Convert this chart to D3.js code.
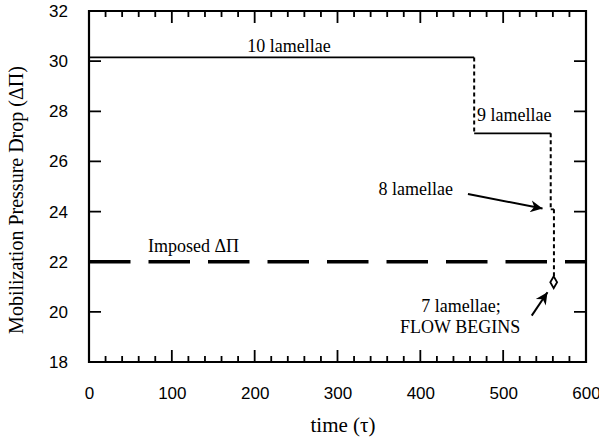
<!DOCTYPE html>
<html>
<head>
<meta charset="utf-8">
<script src="https://cdn.jsdelivr.net/npm/d3@7"></script>
<style>
  body { margin: 0; background: #fff; }
  .tick text { font-family: "Liberation Sans", Arial, sans-serif; font-size: 17px; fill: #000; }
  .lbl { font-family: "Liberation Serif", "Times New Roman", serif; fill: #000; }
</style>
</head>
<body>
<div id="chart"></div>
<script>
// solid steps: [start time, end time, pressure drop]
const steps = [
    [0, 465, 30.15],     // 10 lamellae
    [465, 557.4, 27.12], // 9 lamellae
    [557.4, 561.3, 24.09] // 8 lamellae
];
// dotted drops between steps: [time, from, to]
const drops = [
    [465, 30.15, 27.12],
    [557.4, 27.12, 24.09],
    [561.3, 24.09, 21.18]
];
const flowPoint = [561, 21.18];
const imposed = 22;

const xMajor = [0, 100, 200, 300, 400, 500, 600];
const yMajor = [18, 20, 22, 24, 26, 28, 30, 32];

// annotations in data units
const labels = [
    {t: "10 lamellae", x: 241.4, y: 30.36, anchor: "middle"},
    {t: "9 lamellae", x: 468.4, y: 27.62, anchor: "start"},
    {t: "8 lamellae", x: 439.4, y: 24.66, anchor: "end"},
    {t: "Imposed \u0394\u03A0", x: 71.2, y: 22.39, anchor: "start"},
    {t: "7 lamellae;", x: 449, y: 20.0, anchor: "middle"},
    {t: "FLOW BEGINS", x: 448, y: 19.16, anchor: "middle"}
];
const arrows = [
    [[457.5, 24.70], [547.5, 24.12]],
    [[534.5, 19.85], [553.5, 20.78]]
];

const margin = {top: 11, right: 13, bottom: 75, left: 89};
const W = 599, H = 437;
const width = W - margin.left - margin.right;
const height = H - margin.top - margin.bottom;

const svg = d3.select("#chart").append("svg")
    .attr("width", W)
    .attr("height", H);

svg.append("defs").append("marker")
    .attr("id", "head")
    .attr("viewBox", "0 0 10 10")
    .attr("refX", 10).attr("refY", 5)
    .attr("markerWidth", 18).attr("markerHeight", 12)
    .attr("markerUnits", "userSpaceOnUse")
    .attr("orient", "auto")
    .append("path")
    .attr("d", "M0,0 L10,5 L0,10 L3,5 Z")
    .attr("fill", "#000");

const g = svg.append("g")
    .attr("transform", `translate(${margin.left},${margin.top})`);

const x = d3.scaleLinear().domain([0, 600]).range([0, width]);
const y = d3.scaleLinear().domain([18, 32]).range([height, 0]);

const xMinor = d3.range(0, 601, 20).filter(d => d % 100 !== 0);

// frame
g.append("path")
    .attr("d", `M0,0H${width}V${height}H0Z`)
    .attr("fill", "none").attr("stroke", "#000").attr("stroke-width", 2.2);

// tick labels
g.append("g").attr("transform", `translate(0,${height})`)
    .call(d3.axisBottom(x).tickValues(xMajor).tickSize(0).tickPadding(25))
    .call(a => a.select(".domain").remove());
g.append("g")
    .call(d3.axisLeft(y).tickValues(yMajor).tickSize(0).tickPadding(21))
    .call(a => a.select(".domain").remove());
g.selectAll(".tick text").attr("fill", "#000");

// inward tick marks on all four sides, as one path
const xTicks = xMinor.map(v => [v, 6]).concat(xMajor.map(v => [v, 12]));
let tickPath = "";
xTicks.forEach(d => {
    const px = x(d[0]);
    tickPath += `M${px},${height}V${height - d[1]}M${px},0V${d[1]}`;
});
yMajor.forEach(d => {
    const py = y(d);
    tickPath += `M0,${py}H12M${width},${py}H${width - 12}`;
});
g.append("path")
    .attr("d", tickPath)
    .attr("fill", "none")
    .attr("stroke", "#000")
    .attr("stroke-width", 1.8);

// imposed pressure drop
g.append("line")
    .attr("x1", x(0)).attr("x2", x(600))
    .attr("y1", y(imposed)).attr("y2", y(imposed))
    .attr("stroke", "#000").attr("stroke-width", 3.5)
    .attr("stroke-dasharray", "41.5,18");

// solid steps
g.selectAll(".step").data(steps).enter().append("line")
    .attr("class", "step")
    .attr("x1", d => x(d[0])).attr("x2", d => x(d[1]))
    .attr("y1", d => y(d[2])).attr("y2", d => y(d[2]))
    .attr("stroke", "#000").attr("stroke-width", 1.8);

// dotted drops
g.selectAll(".drop").data(drops).enter().append("line")
    .attr("class", "drop")
    .attr("x1", d => x(d[0])).attr("x2", d => x(d[0]))
    .attr("y1", d => y(d[1])).attr("y2", d => y(d[2]))
    .attr("stroke", "#000").attr("stroke-width", 2)
    .attr("stroke-dasharray", "4,3");

// flow point diamond
g.append("path")
    .attr("d", d3.symbol(d3.symbolDiamond, 40)())
    .attr("transform", `translate(${x(flowPoint[0])},${y(flowPoint[1])})`)
    .attr("fill", "#fff").attr("stroke", "#000").attr("stroke-width", 1.8);

// arrows
g.selectAll(".arrow").data(arrows).enter().append("line")
    .attr("class", "arrow")
    .attr("x1", d => x(d[0][0])).attr("y1", d => y(d[0][1]))
    .attr("x2", d => x(d[1][0])).attr("y2", d => y(d[1][1]))
    .attr("stroke", "#000").attr("stroke-width", 2)
    .attr("marker-end", "url(#head)");

// annotation labels
g.selectAll(".ann").data(labels).enter().append("text")
    .attr("class", "lbl ann")
    .attr("x", d => x(d.x)).attr("y", d => y(d.y))
    .attr("text-anchor", d => d.anchor)
    .attr("font-size", 18)
    .text(d => d.t);

// axis titles
svg.append("text")
    .attr("class", "lbl")
    .attr("x", 343).attr("y", 432)
    .attr("text-anchor", "middle")
    .attr("font-size", 21)
    .text("time (\u03C4)");

svg.append("text")
    .attr("class", "lbl")
    .attr("transform", "translate(23,200) rotate(-90)")
    .attr("text-anchor", "middle")
    .attr("font-size", 20)
    .text("Mobilization Pressure Drop (\u0394\u03A0)");
</script>
</body>
</html>
